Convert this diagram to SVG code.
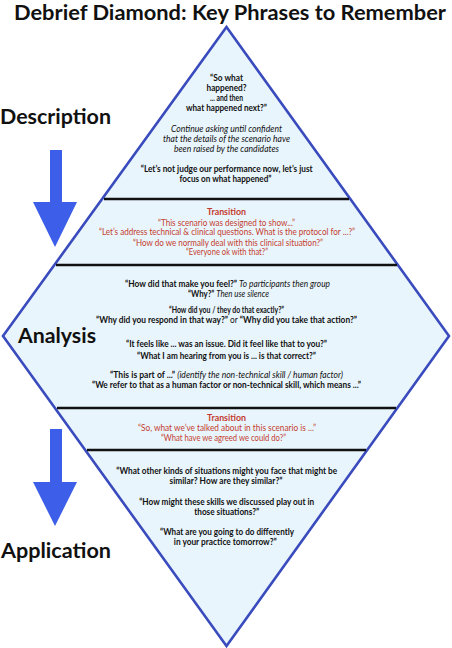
<svg xmlns="http://www.w3.org/2000/svg" width="452" height="648" viewBox="0 0 452 648">
<style>
.t{font-family:Lato,"Liberation Sans",sans-serif;font-size:8.6px;font-weight:bold;fill:#111;text-anchor:middle}
.i{font-style:italic;font-weight:normal}
.n{font-weight:normal}
.r{fill:#c43c2f;font-weight:normal}
.rb{fill:#c43c2f;font-weight:bold}
.big{font-family:Lato,"Liberation Sans",sans-serif;font-weight:bold;fill:#111}
.sep{stroke:#111;stroke-width:2.6}
.arr{fill:#3d5ee8}
</style>
<rect width="452" height="648" fill="#fff"/>
<text class="big" x="14" y="20" font-size="20" textLength="432" lengthAdjust="spacingAndGlyphs">Debrief Diamond: Key Phrases to Remember</text>
<g id="diamond">
<polygon points="226.5,27 449,336 226.5,646 3,336" fill="#e9f5fc" stroke="#3a4bbd" stroke-width="2.6" stroke-linejoin="miter"/>
</g>
<g id="connectors">
<line class="sep" x1="104" y1="199" x2="349" y2="199"/>
<line class="sep" x1="56" y1="265" x2="397" y2="265"/>
<line class="sep" x1="57" y1="408" x2="396" y2="408"/>
<line class="sep" x1="87" y1="450" x2="366" y2="450"/>
</g>
<g id="description">
<text class="big" x="0" y="124" font-size="21" textLength="111" lengthAdjust="spacingAndGlyphs">Description</text>
<polygon class="arr" points="50,150 62,150 62,202 77,202 55,247 33,202 50,202"/>
</g>
<g id="analysis">
<text class="big" x="18" y="343" font-size="21" textLength="78" lengthAdjust="spacingAndGlyphs">Analysis</text>
</g>
<g id="application">
<text class="big" x="1" y="558" font-size="21" textLength="110" lengthAdjust="spacingAndGlyphs">Application</text>
<polygon class="arr" points="50,429 62,429 62,482 77,482 55,526 33,482 50,482"/>
</g>
<g id="description-phrases">
<text class="t" x="226.5" y="80.5" textLength="33" lengthAdjust="spacingAndGlyphs">“So what</text>
<text class="t" x="226.5" y="90.5" textLength="40" lengthAdjust="spacingAndGlyphs">happened?</text>
<text class="t" x="226.5" y="101" textLength="33" lengthAdjust="spacingAndGlyphs">... and then</text>
<text class="t" x="226.5" y="111" textLength="81" lengthAdjust="spacingAndGlyphs">what happened next?”</text>
<text class="t i" x="226.5" y="131.5" textLength="111" lengthAdjust="spacingAndGlyphs">Continue asking until confident</text>
<text class="t i" x="226.5" y="141.5" textLength="127" lengthAdjust="spacingAndGlyphs">that the details of the scenario have</text>
<text class="t i" x="226.5" y="151.5" textLength="105" lengthAdjust="spacingAndGlyphs">been raised by the candidates</text>
<text class="t" x="226.7" y="172" textLength="172" lengthAdjust="spacingAndGlyphs">“Let’s not judge our performance now, let’s just</text>
<text class="t" x="225.5" y="181.8" textLength="92" lengthAdjust="spacingAndGlyphs">focus on what happened”</text>
</g>
<g id="transition-1">
<text class="t rb" x="226.5" y="215.3" textLength="39" lengthAdjust="spacingAndGlyphs">Transition</text>
<text class="t r" x="226.5" y="225.5" textLength="137" lengthAdjust="spacingAndGlyphs">“This scenario was designed to show...”</text>
<text class="t r" x="227" y="235.3" textLength="256" lengthAdjust="spacingAndGlyphs">“Let’s address technical &amp; clinical questions. What is the protocol for ...?”</text>
<text class="t r" x="228" y="245.5" textLength="190" lengthAdjust="spacingAndGlyphs">“How do we normally deal with this clinical situation?”</text>
<text class="t r" x="227" y="255.3" textLength="82" lengthAdjust="spacingAndGlyphs">“Everyone ok with that?”</text>
</g>
<g id="analysis-phrases">
<text class="t" x="227.5" y="287.3" textLength="205" lengthAdjust="spacingAndGlyphs">“How did that make you feel?” <tspan class="i">To participants then group</tspan></text>
<text class="t" x="228.5" y="296.5" textLength="81" lengthAdjust="spacingAndGlyphs">“Why?” <tspan class="i">Then use silence</tspan></text>
<text class="t" x="226.5" y="313.3" textLength="115" lengthAdjust="spacingAndGlyphs">“How did you / they do that exactly?”</text>
<text class="t" x="226.5" y="323.3" textLength="261" lengthAdjust="spacingAndGlyphs">“Why did you respond in that way?” <tspan class="n">or</tspan> “Why did you take that action?”</text>
<text class="t" x="226.5" y="347" textLength="201" lengthAdjust="spacingAndGlyphs">“It feels like ... was an issue. Did it feel like that to you?”</text>
<text class="t" x="226.5" y="358.5" textLength="179" lengthAdjust="spacingAndGlyphs">“What I am hearing from you is ... is that correct?”</text>
<text class="t" x="226.5" y="378" textLength="233" lengthAdjust="spacingAndGlyphs">“This is part of ...” <tspan class="i">(identify the non-technical skill / human factor)</tspan></text>
<text class="t" x="226.5" y="388" textLength="269" lengthAdjust="spacingAndGlyphs">“We refer to that as a human factor or non-technical skill, which means ...”</text>
</g>
<g id="transition-2">
<text class="t rb" x="226.5" y="421.3" textLength="39" lengthAdjust="spacingAndGlyphs">Transition</text>
<text class="t r" x="227" y="431" textLength="178" lengthAdjust="spacingAndGlyphs">“So, what we’ve talked about in this scenario is ...”</text>
<text class="t r" x="223.5" y="440.7" textLength="125" lengthAdjust="spacingAndGlyphs">“What have we agreed we could do?”</text>
</g>
<g id="application-phrases">
<text class="t" x="226.7" y="474" textLength="221" lengthAdjust="spacingAndGlyphs">“What other kinds of situations might you face that might be</text>
<text class="t" x="226" y="484" textLength="113" lengthAdjust="spacingAndGlyphs">similar? How are they similar?”</text>
<text class="t" x="226.7" y="504.7" textLength="175" lengthAdjust="spacingAndGlyphs">“How might these skills we discussed play out in</text>
<text class="t" x="226.7" y="514.7" textLength="65" lengthAdjust="spacingAndGlyphs">those situations?”</text>
<text class="t" x="227" y="535" textLength="134" lengthAdjust="spacingAndGlyphs">“What are you going to do differently</text>
<text class="t" x="225.3" y="544.7" textLength="103" lengthAdjust="spacingAndGlyphs">in your practice tomorrow?”</text>
</g>
</svg>
